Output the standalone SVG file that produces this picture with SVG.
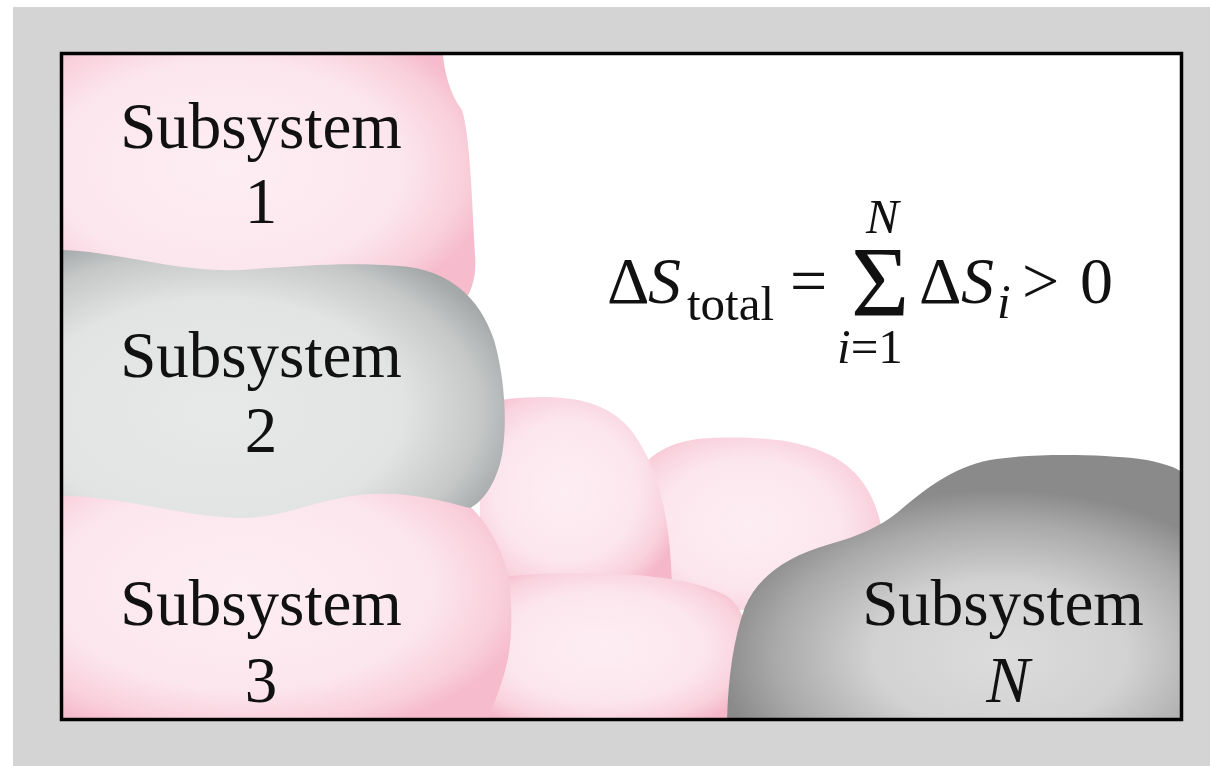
<svg xmlns="http://www.w3.org/2000/svg" width="1210" height="766" viewBox="0 0 1210 766">
  <defs>
    <style>
      .lbl { font-family: "Liberation Serif", "Times New Roman", serif; font-size: 65px; fill: #111; }
      .eq { font-family: "Liberation Serif", "Times New Roman", serif; font-size: 66px; fill: #111; }
      .sub { font-size: 49px; }
      .it { font-style: italic; }
    </style>
    <radialGradient id="pink" cx="0.45" cy="0.5" r="0.62">
      <stop offset="0" stop-color="#fdeef3"/>
      <stop offset="0.6" stop-color="#fce6ee"/>
      <stop offset="0.85" stop-color="#f9d2de"/>
      <stop offset="1" stop-color="#f5b8ca"/>
    </radialGradient>
    <radialGradient id="pink1" cx="0.4" cy="0.45" r="0.65">
      <stop offset="0" stop-color="#fdeef3"/>
      <stop offset="0.65" stop-color="#fce6ee"/>
      <stop offset="0.88" stop-color="#f9d0dc"/>
      <stop offset="1" stop-color="#f6bccd"/>
    </radialGradient>
    <radialGradient id="gray2" cx="0.35" cy="0.6" r="0.7">
      <stop offset="0" stop-color="#e7e8e8"/>
      <stop offset="0.6" stop-color="#e2e3e3"/>
      <stop offset="0.85" stop-color="#c6c8c8"/>
      <stop offset="1" stop-color="#a4a8a8"/>
    </radialGradient>
    <radialGradient id="grayN" cx="0.6" cy="0.75" r="0.62">
      <stop offset="0" stop-color="#dcdcdc"/>
      <stop offset="0.45" stop-color="#d2d2d2"/>
      <stop offset="0.8" stop-color="#a9a9a9"/>
      <stop offset="1" stop-color="#8a8a8a"/>
    </radialGradient>
    <clipPath id="frame">
      <rect x="63" y="55" width="1117" height="663"/>
    </clipPath>
  </defs>

  <rect x="0" y="0" width="1210" height="766" fill="#fff"/>
  <rect x="13" y="7" width="1197" height="759" fill="#d4d4d4"/>
  <rect x="61.5" y="53.5" width="1120" height="666" fill="#fff"/>

  <g clip-path="url(#frame)">
    <g id="blob-b">
      <path d="M640,470 C650,455 670,440 710,438 C760,436 800,440 830,455 C860,470 875,495 882,530 L882,610 L640,610 Z" fill="url(#pink)"/>
    </g>
    <g id="blob-a">
      <path d="M480,410 C490,400 505,398 540,397 C575,397 615,402 638,440 C660,475 670,520 672,585 L480,585 Z" fill="url(#pink)"/>
    </g>
    <g id="blob-c">
      <path d="M490,580 C510,574 560,572 620,574 C660,576 700,582 725,595 C742,605 748,625 750,660 L752,720 L480,720 Z" fill="url(#pink)"/>
    </g>
    <g id="subsystem-3">
      <path d="M63,480 L440,482 C470,500 500,535 508,575 C514,615 512,650 503,678 C497,698 490,712 488,720 L63,720 Z" fill="url(#pink1)"/>
      <text class="lbl" x="261" y="625" text-anchor="middle">Subsystem</text>
      <text class="lbl" x="261" y="702" text-anchor="middle">3</text>
    </g>
    <g id="subsystem-1">
      <path d="M63,55 L443,55 C444,70 450,95 462,110 C470,135 472,200 475,255 C477,275 472,292 462,305 L63,305 Z" fill="url(#pink1)"/>
      <text class="lbl" x="261" y="148" text-anchor="middle">Subsystem</text>
      <text class="lbl" x="261" y="223" text-anchor="middle">1</text>
    </g>
    <g id="subsystem-2">
      <path d="M63,250 C120,252 180,273 240,270 C300,266 345,262 400,266 C450,270 480,298 494,340 C504,375 508,420 502,455 C496,485 482,502 470,508 C440,500 410,492 370,494 C320,497 285,519 238,518 C180,516 120,496 63,496 Z" fill="url(#gray2)"/>
      <text class="lbl" x="261" y="377" text-anchor="middle">Subsystem</text>
      <text class="lbl" x="261" y="452" text-anchor="middle">2</text>
    </g>
    <g id="subsystem-n">
      <path d="M727,722 C728,680 733,640 745,607 C758,577 785,557 830,544 C858,536 878,528 898,512 C922,492 950,468 990,460 C1030,453 1100,454 1140,459 C1160,462 1175,467 1182,472 L1182,722 Z" fill="url(#grayN)"/>
      <text class="lbl" x="1003" y="625" text-anchor="middle">Subsystem</text>
      <text class="lbl it" x="1008" y="702" text-anchor="middle">N</text>
    </g>
  </g>

  <rect x="61.5" y="53.5" width="1120" height="666" fill="none" stroke="#000" stroke-width="3.5"/>

  <g id="equation" class="eq">
    <text x="607" y="303">Δ</text>
    <text x="648" y="303" class="it">S</text>
    <text x="687" y="320" class="sub">total</text>
    <text x="790" y="303">=</text>
    <text x="851" y="315" style="font-size:100px">Σ</text>
    <text x="866" y="233" class="sub it">N</text>
    <text x="837" y="363" class="sub"><tspan class="it">i</tspan><tspan>=1</tspan></text>
    <text x="919" y="303">Δ</text>
    <text x="961" y="303" class="it">S</text>
    <text x="997" y="318" class="sub it">i</text>
    <text x="1022" y="303">&gt;</text>
    <text x="1080" y="303">0</text>
  </g>

  <g id="connectors"/>
</svg>
